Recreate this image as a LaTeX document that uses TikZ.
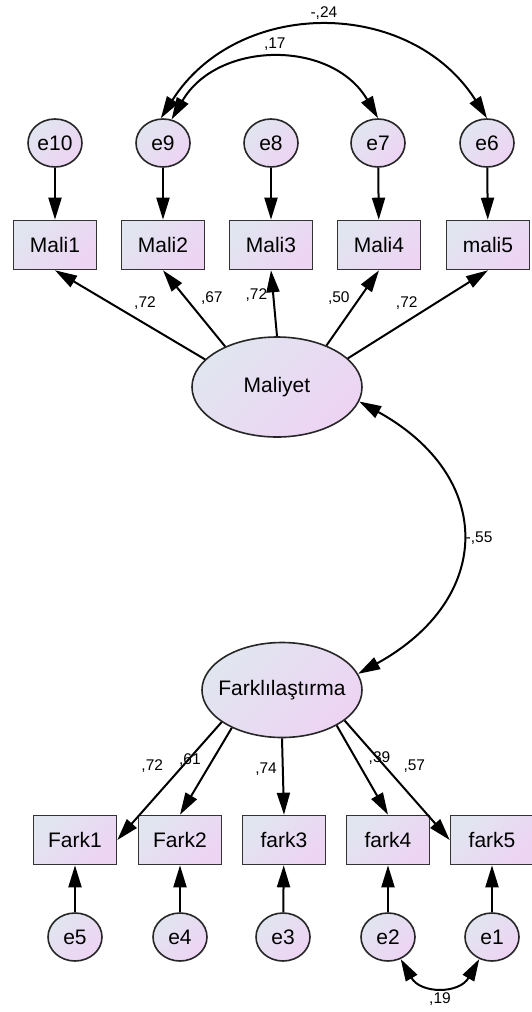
\documentclass[tikz,border=0pt]{standalone}
\usepackage{fontspec}
\setmainfont{Liberation Sans}
\usetikzlibrary{positioning, calc, shapes.geometric, arrows.meta}
\definecolor{shadeleft}{RGB}{225,229,240}
\definecolor{shaderight}{RGB}{237,212,243}
\tikzstyle{Arrow} = [
%One-headed path arrow:
line width = 2pt,
-{Triangle[length = 22pt, width = 13pt]}
]
\tikzstyle{Covar} = [
%Two-headed covariance arrow:
line width = 2pt,
{Triangle[length = 22pt, width = 13pt]}-{Triangle[length = 22pt, width = 13pt]}
]

\begin{document}
\begin{tikzpicture}[x = 1pt, y = -1pt,
			filled/.style = {top color = shadeleft, bottom color = shaderight, shading angle = 45},
			observed/.style = {rectangle, filled, draw = black!80, line width = 1.6pt, minimum width = 83pt, minimum height = 49pt, font = \fontsize{21}{24}\selectfont},
			latent/.style = {ellipse, filled, draw = black!85, line width = 1.6pt, minimum width = 170pt, minimum height = 100pt, font = \fontsize{21}{24}\selectfont},
			error/.style = {ellipse, filled, draw = black!85, line width = 1.6pt, minimum width = 54pt, minimum height = 48pt, inner sep = 0pt, font = \fontsize{21}{24}\selectfont},
			coef/.style = {inner sep = 0pt, font = \fontsize{15.5}{17}\selectfont},
		]
		\useasboundingbox (0,0) rectangle (531,1012);

		\node[error](E10) at (55,143){e10};
		\node[error](E9) at (163,143){e9};
		\node[error](E8) at (271,143){e8};
		\node[error](E7) at (378,143){e7};
		\node[error](E6) at (487,143){e6};

		\node[observed](M1) at (55,245){Mali1};
		\node[observed](M2) at (163,245){Mali2};
		\node[observed](M3) at (271,245){Mali3};
		\node[observed](M4) at (379,245){Mali4};
		\node[observed](M5) at (488,245){mali5};

		\node[latent](MAL) at (277,387){Maliyet};
		\node[latent, minimum width = 160pt, minimum height = 95pt, inner xsep = -10pt](FARK) at (282,690){Farklılaştırma};

		\node[observed](F1) at (75,840){Fark1};
		\node[observed](F2) at (180,840){Fark2};
		\node[observed](F3) at (284,840){fark3};
		\node[observed](F4) at (388,840){fark4};
		\node[observed](F5) at (492,840){fark5};

		\node[error](E5) at (75,937){e5};
		\node[error](E4) at (180,937){e4};
		\node[error](E3) at (283,937){e3};
		\node[error](E2) at (388,937){e2};
		\node[error](E1) at (492,937){e1};

		\draw[Arrow](E10)--(M1);
		\draw[Arrow](E9)--(M2);
		\draw[Arrow](E8)--(M3);
		\draw[Arrow](E7)--(M4);
		\draw[Arrow](E6)--(M5);

		\draw[Arrow](MAL.159)--node[coef, pos = 0.4, above = 13pt] {,72}(M1.south);
		\draw[Arrow](MAL.142)--node[coef, pos = 0.63, right = 14pt] {,67}(M2.south);
		\draw[Arrow](MAL.90)--node[coef, pos = 0.63, left = 5pt] {,72}(M3.south);
		\draw[Arrow](MAL.40)--node[coef, pos = 0.63, left = 9pt] {,50}(M4.south);
		\draw[Arrow](MAL.22)--node[coef, pos = 0.42, above = 11pt] {,72}(M5.south);

		\draw[Arrow](FARK.208)--node[coef, pos = 0.37, left = 19pt] {,72}(F1.east);
		\draw[Arrow](FARK.217)--node[coef, pos = 0.37, left = 11pt] {,61}(F2.north);
		\draw[Arrow](FARK.270)--node[coef, pos = 0.41, left = 5pt] {,74}(F3.north);
		\draw[Arrow](FARK.327)--node[coef, pos = 0.37, right = 12pt] {,39}(F4.north);
		\draw[Arrow](FARK.334)--node[coef, pos = 0.38, right = 18pt] {,57}(F5.west);

		\draw[Arrow](E5)--(F1);
		\draw[Arrow](E4)--(F2);
		\draw[Arrow](E3)--(F3);
		\draw[Arrow](E2)--(F4);
		\draw[Arrow](E1)--(F5);

		\draw[Covar](E9.95) .. controls +(77,-121) and +(-77,-121) .. (E6.north) node[coef, pos = 0.5, above = 7pt] {-,24};
		\draw[Covar](E9.70) .. controls +(46,-79) and +(-46,-79) .. (E7.north) node[coef, pos = 0.5, above = 8pt] {,17};
		\draw[Covar](MAL.-10) .. controls +(136,75) and +(136,-75) .. (FARK.12) node[coef, pos = 0.5, right = 4pt] {-,55};
		\draw[Covar](E2.-60) .. controls +(20,35) and +(-20,35) .. (E1.-120) node[coef, pos = 0.5, below = 6pt] {,19};
	\end{tikzpicture}
\end{document}
